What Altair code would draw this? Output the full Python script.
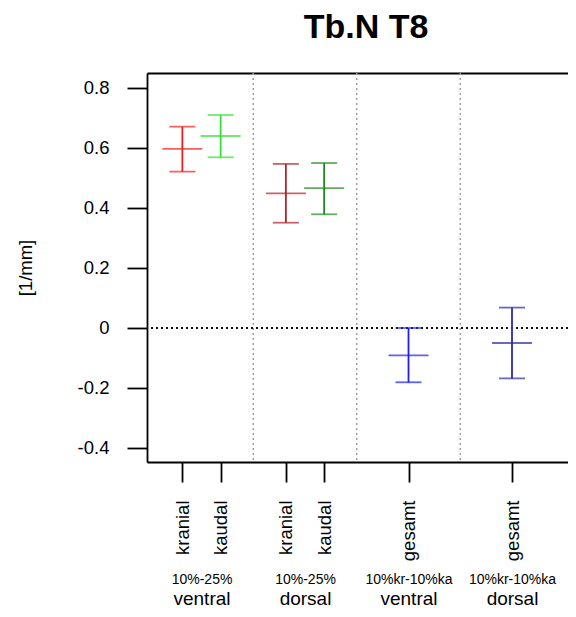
import altair as alt
import pandas as pd

# ---------------- data ----------------
title_text = "Tb.N T8"
y_title = "[1/mm]"

keys = ["v_kr", "v_ka", "d_kr", "d_ka", "v_ges", "d_ges"]
labels = ["kranial", "kaudal", "kranial", "kaudal", "gesamt", "gesamt"]
positions = [0.815, 1.185, 1.815, 2.185, 3.0, 4.0]
means = [0.597, 0.640, 0.449, 0.466, -0.091, -0.050]
lower = [0.521, 0.569, 0.351, 0.379, -0.181, -0.168]
upper = [0.671, 0.710, 0.547, 0.550, 0.000, 0.068]
colors = ["#F41C1C", "#33E033", "#B0202E", "#1E8A1E", "#1E1EF2", "#2A2AAA"]

group_pos = [1, 2, 3, 4]
group_range = ["10%-25%", "10%-25%", "10%kr-10%ka", "10%kr-10%ka"]
group_side = ["ventral", "dorsal", "ventral", "dorsal"]
separators = [1.5, 2.5, 3.5]
zero_line = [0.0]

y_ticks = [-0.4, -0.2, 0.0, 0.2, 0.4, 0.6, 0.8]
x_domain = [0.4734, 4.541]
y_domain = [-0.4467, 0.85]

FONT = "Liberation Sans"

df = pd.DataFrame({"key": keys, "label": labels, "pos": positions,
                   "mean": means, "lo": lower, "hi": upper})
sep_df = pd.DataFrame({"sep": separators})
zero_df = pd.DataFrame({"zero": zero_line})


def lab_expr(pos, labs):
    expr = "''"
    for p, l in reversed(list(zip(pos, labs))):
        expr = f"abs(datum.value - {p}) < 0.01 ? '{l}' : ({expr})"
    return expr


xscale = alt.Scale(domain=x_domain, nice=False, zero=False)
yscale = alt.Scale(domain=y_domain, nice=False, zero=False)
color = alt.Color("key:N", scale=alt.Scale(domain=keys, range=colors), legend=None)

LW = 1.8

yaxis = alt.Axis(
    values=y_ticks,
    labelExpr="datum.value == 0 ? '0' : replace(format(datum.value, '.1f'), '\u2212', '-')",
    title=y_title, tickSize=20, tickWidth=LW, domainWidth=LW, grid=False,
    labelPadding=18, labelFontSize=18.5, titleFontSize=18.5,
    titleFontWeight="normal", titlePadding=42, labelFlush=False,
    labelOverlap=False,
)
main_xaxis = alt.Axis(
    orient="bottom", values=positions, labelExpr=lab_expr(positions, labels),
    labelAngle=-90, tickSize=20, tickWidth=LW, domainWidth=LW, grid=False,
    labelPadding=18, labelFontSize=18.5, labelFlush=False, labelOverlap=False,
    title=None,
)
row2_axis = alt.Axis(
    orient="bottom", values=group_pos, labelExpr=lab_expr(group_pos, group_range),
    ticks=False, domain=False, grid=False, labelPadding=110, labelFontSize=14,
    labelFlush=False, labelOverlap=False, title=None, labelBaseline="top",
)
row3_axis = alt.Axis(
    orient="bottom", values=group_pos, labelExpr=lab_expr(group_pos, group_side),
    ticks=False, domain=False, grid=False, labelPadding=127, labelFontSize=19,
    labelFlush=False, labelOverlap=False, title=None, labelBaseline="top",
)
top_axis = alt.Axis(orient="top", labels=False, ticks=False, domain=True,
                    domainWidth=LW, grid=False, title=None)

sep = alt.Chart(sep_df).mark_rule(color="#A0A0A0", strokeDash=[2, 3], strokeWidth=1.5).encode(
    x=alt.X("sep:Q", scale=xscale, axis=top_axis)
)
zero = alt.Chart(zero_df).mark_rule(color="#111111", strokeDash=[2, 3], strokeWidth=2).encode(
    y=alt.Y("zero:Q", scale=yscale, axis=yaxis)
)
vbar = alt.Chart(df).mark_rule(strokeWidth=LW).encode(
    x=alt.X("pos:Q", scale=xscale, axis=main_xaxis),
    y=alt.Y("lo:Q", scale=yscale, axis=yaxis),
    y2="hi:Q",
    color=color,
)
cap_lo = alt.Chart(df).mark_tick(orient="horizontal", size=26, thickness=LW).encode(
    x=alt.X("pos:Q", scale=xscale, axis=row2_axis),
    y=alt.Y("lo:Q", scale=yscale, axis=yaxis),
    color=color,
)
cap_hi = alt.Chart(df).mark_tick(orient="horizontal", size=26, thickness=LW).encode(
    x=alt.X("pos:Q", scale=xscale, axis=None),
    y=alt.Y("hi:Q", scale=yscale, axis=yaxis),
    color=color,
)
mean_tick = alt.Chart(df).mark_tick(orient="horizontal", size=40, thickness=LW).encode(
    x=alt.X("pos:Q", scale=xscale, axis=row3_axis),
    y=alt.Y("mean:Q", scale=yscale, axis=yaxis),
    color=color,
)

chart = alt.layer(sep, zero, vbar, cap_lo, cap_hi, mean_tick).resolve_axis(
    x="independent"
).properties(
    width=421, height=389,
    background="white",
    autosize=alt.AutoSizeParams(type="none"),
    padding={"left": 139, "top": 65, "right": 0, "bottom": 147},
    title=alt.TitleParams(title_text, font=FONT, fontSize=34, fontWeight="bold",
                          anchor="middle", frame="group", dx=8.5, offset=27,
                          color="black"),
).configure_axis(
    domainColor="black", tickColor="black", labelColor="black", titleColor="black",
    labelFont=FONT, titleFont=FONT, grid=False,
).configure_view(stroke=None)

chart.save("out.html", embed_options={"renderer": "svg", "actions": False})
